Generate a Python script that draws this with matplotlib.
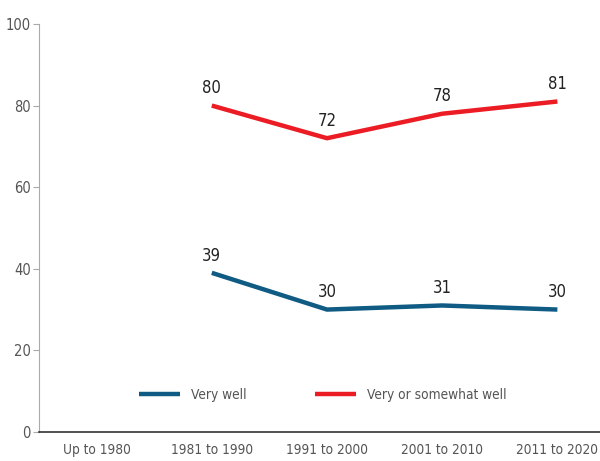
import numpy as np
import matplotlib
matplotlib.use('Agg')
import matplotlib.pyplot as plt

plt.rcParams['font.family'] = ['DejaVu Sans']
plt.rcParams['font.stretch'] = 'condensed'

# data
categories = ['Up to 1980', '1981 to 1990', '1991 to 2000', '2001 to 2010', '2011 to 2020']
very_well = [np.nan, 39, 30, 31, 30]
very_or_somewhat = [np.nan, 80, 72, 78, 81]

blue = '#0f5b84'
red = '#ec1c24'

fig = plt.figure(figsize=(6, 4.61), dpi=100)
ax = fig.add_axes([0.065, 0.063, 0.935, 0.885])

x = np.arange(len(categories))
ax.plot(x, very_well, color=blue, lw=3.2, solid_capstyle='butt', label='Very well')
ax.plot(x, very_or_somewhat, color=red, lw=3.2, solid_capstyle='butt', label='Very or somewhat well')

# value labels above the points
for series in [very_well, very_or_somewhat]:
    for xi, v in zip(x, series):
        if not np.isnan(v):
            ax.annotate(f'{v:.0f}', (xi, v), xytext=(0, 6), textcoords='offset points',
                        ha='center', va='bottom', fontsize=12, color='#222222')

ax.set_xlim(-0.5, 4.37)
ax.set_ylim(0, 100)
ax.set_yticks([0, 20, 40, 60, 80, 100])
ax.set_xticks(x)
ax.set_xticklabels(categories)

for s in ['top', 'right']:
    ax.spines[s].set_visible(False)
ax.spines['left'].set_color('#aaaaaa')
ax.spines['bottom'].set_color('#333333')
ax.spines['bottom'].set_linewidth(1.2)
ax.tick_params(axis='y', colors='#aaaaaa', labelcolor='#555555', labelsize=10.5, length=4, pad=2)
ax.tick_params(axis='x', length=0, labelcolor='#555555', labelsize=9.8, pad=8)

ax.legend(loc='center', bbox_to_anchor=(0.506, 0.09), ncol=2, frameon=False,
          fontsize=9.8, handlelength=3.0, handletextpad=0.8, columnspacing=5,
          labelcolor='#555555')

fig.savefig('out.png', dpi=100)
